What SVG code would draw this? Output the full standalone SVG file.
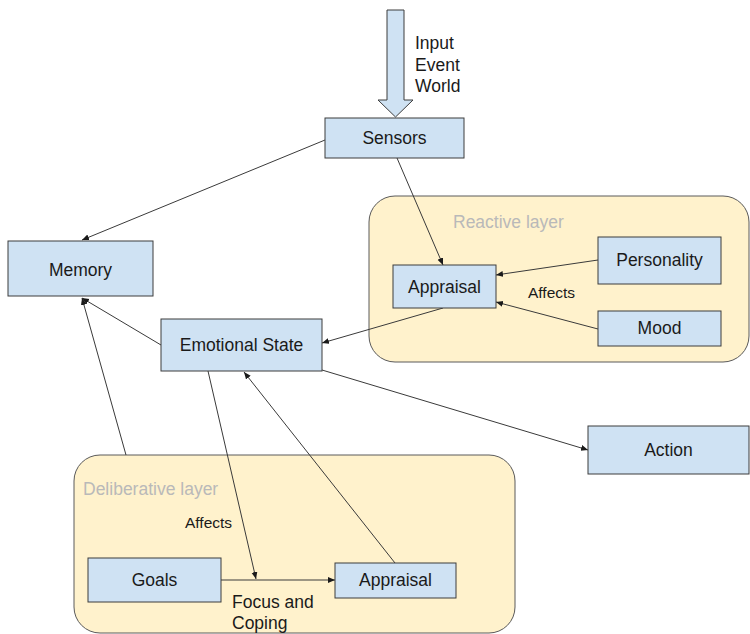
<svg xmlns="http://www.w3.org/2000/svg" width="750" height="634" viewBox="0 0 750 634">
  <style>
    .node rect { fill: #cfe2f3; stroke: #3c3c3c; stroke-width: 1; }
    .layer { fill: #fff2cc; stroke: #5a5a5a; stroke-width: 1; }
    .label { font-family: "Liberation Sans", Arial, sans-serif; font-size: 17.5px; fill: #1a1a1a; }
    .small { font-family: "Liberation Sans", Arial, sans-serif; font-size: 15.5px; fill: #1a1a1a; }
    .layer-title { font-family: "Liberation Sans", Arial, sans-serif; font-size: 17.5px; fill: #b9b9b9; }
    .mid { text-anchor: middle; }
    #connectors line { stroke: #3a3a3a; stroke-width: 1; fill: none; marker-end: url(#arrow); }
  </style>
  <defs>
    <marker id="arrow" markerUnits="userSpaceOnUse" markerWidth="8" markerHeight="8" refX="7" refY="3" orient="auto">
      <path d="M0,0 L7,3 L0,6 Z" fill="#1a1a1a"/>
    </marker>
  </defs>

  <rect width="750" height="634" fill="#ffffff"/>

  <!-- layer containers -->
  <g id="reactive-layer">
    <rect class="layer" x="369" y="196" width="380" height="166" rx="26" ry="26"/>
    <text class="layer-title" x="453" y="228">Reactive layer</text>
  </g>
  <g id="deliberative-layer">
    <rect class="layer" x="74" y="455" width="441" height="178" rx="26" ry="26"/>
    <text class="layer-title" x="83" y="495">Deliberative layer</text>
  </g>

  <!-- incoming input -->
  <g id="input">
    <polygon points="387,10 404,10 404,100 413,100 395.5,117 378,100 387,100" fill="#cfe2f3" stroke="#3c3c3c" stroke-width="1"/>
    <text class="label" x="415" y="49">Input</text>
    <text class="label" x="415" y="70.5">Event</text>
    <text class="label" x="415" y="92">World</text>
  </g>

  <!-- connectors -->
  <g id="connectors">
    <line x1="325" y1="140" x2="82" y2="240"/>
    <line x1="397" y1="158" x2="443" y2="265"/>
    <line x1="598" y1="260" x2="496" y2="275"/>
    <line x1="598" y1="329" x2="496" y2="302"/>
    <line x1="443" y1="308" x2="322" y2="343"/>
    <line x1="161" y1="345" x2="82" y2="298"/>
    <line x1="126" y1="455" x2="82" y2="298"/>
    <line x1="322" y1="370" x2="588" y2="450"/>
    <line x1="208" y1="371" x2="256" y2="579"/>
    <line x1="395" y1="563" x2="244" y2="372"/>
    <line x1="221" y1="580" x2="335" y2="580"/>
  </g>

  <!-- connector labels -->
  <text class="small" x="528" y="297.5">Affects</text>
  <text class="small" x="185" y="528">Affects</text>
  <text class="label" x="232" y="608">Focus and</text>
  <text class="label" x="232" y="629">Coping</text>

  <!-- nodes -->
  <g id="sensors" class="node">
    <rect x="325" y="118" width="139" height="40"/>
    <text class="label mid" x="394.5" y="144">Sensors</text>
  </g>
  <g id="memory" class="node">
    <rect x="8" y="241" width="145" height="55"/>
    <text class="label mid" x="80.5" y="276">Memory</text>
  </g>
  <g id="reactive-appraisal" class="node">
    <rect x="393" y="265" width="103" height="43"/>
    <text class="label mid" x="444.5" y="293">Appraisal</text>
  </g>
  <g id="personality" class="node">
    <rect x="598" y="237" width="123" height="47"/>
    <text class="label mid" x="659.5" y="266">Personality</text>
  </g>
  <g id="mood" class="node">
    <rect x="598" y="311" width="123" height="35"/>
    <text class="label mid" x="659.5" y="334">Mood</text>
  </g>
  <g id="emotional-state" class="node">
    <rect x="161" y="319" width="161" height="52"/>
    <text class="label mid" x="241.5" y="351">Emotional State</text>
  </g>
  <g id="action" class="node">
    <rect x="588" y="426" width="161" height="48"/>
    <text class="label mid" x="668.5" y="456">Action</text>
  </g>
  <g id="goals" class="node">
    <rect x="88" y="558" width="133" height="44"/>
    <text class="label mid" x="154.5" y="586">Goals</text>
  </g>
  <g id="deliberative-appraisal" class="node">
    <rect x="335" y="563" width="121" height="35"/>
    <text class="label mid" x="395.5" y="586">Appraisal</text>
  </g>
</svg>
